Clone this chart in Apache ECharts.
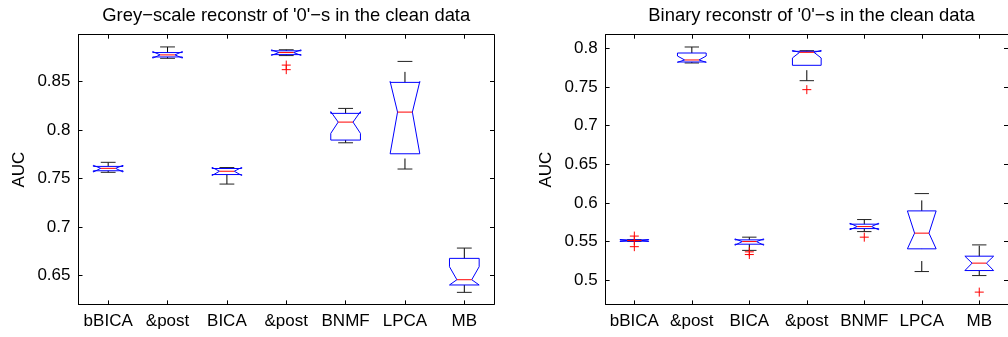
<!DOCTYPE html>
<html>
<head>
<meta charset="utf-8">
<script src="https://cdn.jsdelivr.net/npm/echarts@6/dist/echarts.min.js"></script>
<style>
  html, body { margin: 0; padding: 0; background: #fff; }
  #chart { width: 1008px; height: 337px; }
</style>
</head>
<body>
<div id="chart"></div>
<script>
// Method names along the x axis (shared by both panels)
const categories = ['bBICA', '&post', 'BICA', '&post', 'BNMF', 'LPCA', 'MB'];

// Grey-scale reconstruction AUC: whisker ends, quartiles, medians, notch ends
const greyLo      = [0.7565, 0.8739, 0.7444, 0.8767, 0.7869, 0.7599, 0.6329];
const greyQ1      = [0.7581, 0.8753, 0.7542, 0.8777, 0.7897, 0.7756, 0.6405];
const greyMed     = [0.7606, 0.8774, 0.7576, 0.8798, 0.8082, 0.8185, 0.6459];
const greyQ3      = [0.7626, 0.8798, 0.7604, 0.8816, 0.8172, 0.8491, 0.6679];
const greyHi      = [0.7668, 0.8856, 0.7614, 0.8827, 0.8223, 0.8707, 0.6785];
const greyNotchLo = [0.7568, 0.8741, 0.7532, 0.8769, 0.7966, 0.7756, 0.6405];
const greyNotchHi = [0.7637, 0.8809, 0.7616, 0.8826, 0.8190, 0.8500, 0.6593];
const greyOutliers = [[], [], [], [0.8669, 0.8622], [], [], []];
const greyTicks   = [0.65, 0.7, 0.75, 0.8, 0.85];
const greyRange   = [0.6205, 0.8982];

// Binary reconstruction AUC
const binLo      = [0.5502, 0.7810, 0.5385, 0.7581, 0.5628, 0.5111, 0.5059];
const binQ1      = [0.5504, 0.7823, 0.5465, 0.7780, 0.5667, 0.5405, 0.5124];
const binMed     = [0.5513, 0.7849, 0.5499, 0.7948, 0.5693, 0.5608, 0.5220];
const binQ3      = [0.5521, 0.7939, 0.5521, 0.7961, 0.5724, 0.5896, 0.5310];
const binHi      = [0.5523, 0.8017, 0.5556, 0.7969, 0.5784, 0.6120, 0.5456];
const binNotchLo = [0.5500, 0.7819, 0.5452, 0.7875, 0.5652, 0.5405, 0.5124];
const binNotchHi = [0.5526, 0.7900, 0.5534, 0.7972, 0.5736, 0.5896, 0.5310];
const binOutliers = [[0.5570, 0.5510, 0.5433], [], [0.5366, 0.5331], [0.7465], [0.5556], [], [0.4845]];
const binTicks   = [0.5, 0.55, 0.6, 0.65, 0.7, 0.75, 0.8];
const binRange   = [0.4686, 0.8176];

const titles = ["Grey\u2212scale reconstr of '0'\u2212s in the clean data",
                "Binary reconstr of '0'\u2212s in the clean data"];
const yName = 'AUC';

const FONT = '"Liberation Sans", Arial, Helvetica, sans-serif';
const BLUE = '#0000ff', RED = '#ff0000', BLACK = '#000000';

function boxRows(lo, q1, med, q3, hi, nlo, nhi) {
  return categories.map((c, i) => [i, lo[i], q1[i], med[i], q3[i], hi[i], nlo[i], nhi[i]]);
}
function outlierRows(out) {
  const rows = [];
  out.forEach((vals, i) => vals.forEach(v => rows.push([i, v])));
  return rows;
}

// Notched box with dashed whiskers and caps
function renderBox(params, api) {
  const i = api.value(0);
  const band = api.size([1, 0])[0];
  const w = band * 0.25;
  const x = api.coord([i, api.value(3)])[0];
  const y = v => api.coord([i, v])[1];
  const lo = y(api.value(1)), q1 = y(api.value(2)), med = y(api.value(3));
  const q3 = y(api.value(4)), hi = y(api.value(5));
  const nlo = y(api.value(6)), nhi = y(api.value(7));
  const dash = { stroke: BLACK, lineWidth: 1, lineDash: [10.5, 12] };
  const cap = { stroke: '#222', lineWidth: 1 };
  return {
    type: 'group',
    children: [
      { type: 'line', shape: { x1: x, y1: q3, x2: x, y2: hi }, style: dash },
      { type: 'line', shape: { x1: x, y1: lo, x2: x, y2: q1 }, style: dash },
      { type: 'line', shape: { x1: x - w / 2, y1: hi, x2: x + w / 2, y2: hi }, style: cap },
      { type: 'line', shape: { x1: x - w / 2, y1: lo, x2: x + w / 2, y2: lo }, style: cap },
      {
        type: 'polygon',
        shape: {
          points: [
            [x - w, q1], [x - w, nlo], [x - w / 2, med], [x - w, nhi], [x - w, q3],
            [x + w, q3], [x + w, nhi], [x + w / 2, med], [x + w, nlo], [x + w, q1]
          ]
        },
        style: { fill: null, stroke: BLUE, lineWidth: 1 }
      },
      { type: 'line', shape: { x1: x - w / 2, y1: med, x2: x + w / 2, y2: med },
        style: { stroke: RED, lineWidth: 1 } }
    ]
  };
}

// Outlier drawn as a red plus
function renderPlus(params, api) {
  const p = api.coord([api.value(0), api.value(1)]);
  const r = 4.5;
  return {
    type: 'group',
    children: [
      { type: 'line', shape: { x1: p[0] - r, y1: p[1], x2: p[0] + r, y2: p[1] }, style: { stroke: RED, lineWidth: 1 } },
      { type: 'line', shape: { x1: p[0], y1: p[1] - r, x2: p[0], y2: p[1] + r }, style: { stroke: RED, lineWidth: 1 } }
    ]
  };
}

const panels = [
  { grid: { left: 78.5, top: 34.7, width: 415.5, height: 269.7 },
    range: greyRange, ticks: greyTicks,
    boxes: boxRows(greyLo, greyQ1, greyMed, greyQ3, greyHi, greyNotchLo, greyNotchHi),
    outs: outlierRows(greyOutliers) },
  { grid: { left: 605.6, top: 34.7, width: 412, height: 269.7 },
    range: binRange, ticks: binTicks,
    boxes: boxRows(binLo, binQ1, binMed, binQ3, binHi, binNotchLo, binNotchHi),
    outs: outlierRows(binOutliers) }
];

const option = {
  animation: false,
  backgroundColor: '#ffffff',
  grid: [], xAxis: [], yAxis: [], series: [], title: [], graphic: []
};

const axisLine = { show: true, onZero: false, lineStyle: { color: BLACK, width: 1 } };

panels.forEach((p, g) => {
  option.grid.push(Object.assign({ containLabel: false }, p.grid));
  ['bottom', 'top'].forEach(pos => {
    option.xAxis.push({
      type: 'category', gridIndex: g, position: pos, data: categories, boundaryGap: true,
      axisLine: axisLine,
      axisTick: { show: true, alignWithLabel: true, inside: true, length: 4, lineStyle: { color: BLACK } },
      axisLabel: { show: pos === 'bottom', color: BLACK, fontFamily: FONT, fontSize: 17, margin: 8, interval: 0 },
      splitLine: { show: false }
    });
  });
  ['left', 'right'].forEach(pos => {
    option.yAxis.push({
      type: 'value', gridIndex: g, position: pos, min: p.range[0], max: p.range[1],
      axisLine: axisLine,
      axisTick: { show: true, inside: true, length: 4, customValues: p.ticks, lineStyle: { color: BLACK } },
      axisLabel: { show: pos === 'left', customValues: p.ticks, color: BLACK, fontFamily: FONT, fontSize: 17, margin: 8 },
      splitLine: { show: false }
    });
  });
  option.series.push({
    type: 'custom', xAxisIndex: g * 2, yAxisIndex: g * 2,
    renderItem: renderBox, data: p.boxes, encode: { x: 0, y: [1, 2, 3, 4, 5] }, clip: false, silent: true
  });
  option.series.push({
    type: 'custom', xAxisIndex: g * 2, yAxisIndex: g * 2,
    renderItem: renderPlus, data: p.outs, encode: { x: 0, y: 1 }, clip: false, silent: true
  });
  const cx = p.grid.left + p.grid.width / 2;
  option.graphic.push({
    type: 'text', x: cx, y: 16,
    style: { text: titles[g], fill: BLACK, font: '18.4px ' + FONT, textAlign: 'center', textVerticalAlign: 'middle' }
  });
  option.graphic.push({
    type: 'text', x: p.grid.left - 59, y: p.grid.top + p.grid.height / 2, rotation: Math.PI / 2,
    style: { text: yName, fill: BLACK, font: '17px ' + FONT, textAlign: 'center', textVerticalAlign: 'middle' }
  });
});

const chart = echarts.init(document.getElementById('chart'), null, { renderer: 'canvas' });
chart.setOption(option);
</script>
</body>
</html>
